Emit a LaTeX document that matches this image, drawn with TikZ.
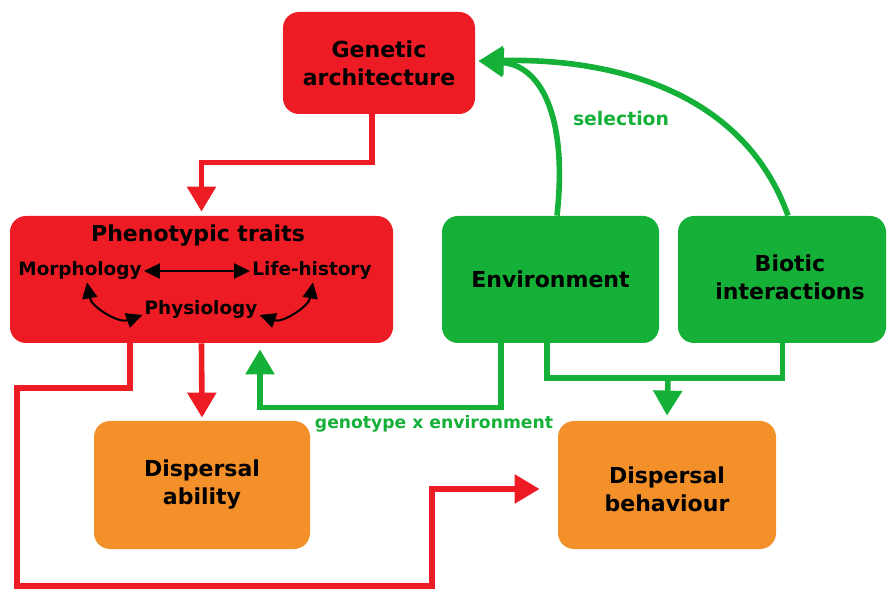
\documentclass[tikz,border=0pt]{standalone}
\usepackage{fontspec}
\setmainfont{DejaVu Sans}
\usetikzlibrary{arrows.meta}
\definecolor{gred}{RGB}{237,28,36}
\definecolor{ggreen}{RGB}{20,176,56}
\definecolor{gorange}{RGB}{243,144,42}
\begin{document}
\begin{tikzpicture}[x=0.5pt,y=-0.5pt, line join=miter, font=\bfseries\fontsize{11}{14}\selectfont]
    \tikzset{box/.style={rounded corners=8pt, inner sep=0pt, align=center, text=black},
        small text/.style={font=\bfseries\fontsize{9.2}{11}\selectfont},
        big head/.style={-{Triangle[length=12.5pt,width=14pt]}},
        red line/.style={draw=gred, line width=2.8pt},
        green line/.style={draw=ggreen, line width=2.8pt},
        black line/.style={line width=1pt, {Triangle[length=8pt,width=7.5pt]}-{Triangle[length=8pt,width=7.5pt]}}}
    \useasboundingbox (0,0) rectangle (888,592);
    \node[box, fill=gred, minimum width=96pt, minimum height=51pt] (gen) at (379,63) {Genetic\\architecture};
    \node[box, fill=gred, minimum width=191.5pt, minimum height=63.5pt] (pheno) at (201.5,279.5) {};
    \node[box, fill=ggreen, minimum width=108.5pt, minimum height=63.5pt] (env) at (550.5,279.5) {Environment};
    \node[box, fill=ggreen, minimum width=104pt, minimum height=63.5pt,
        label={[align=center, xshift=4pt, yshift=1pt]center:Biotic\\interactions}] (biotic) at (782,279.5) {};
    \node[box, fill=gorange, minimum width=108pt, minimum height=64pt] (ability) at (202,485) {Dispersal\\ability};
    \node[box, fill=gorange, minimum width=109pt, minimum height=64pt,
        label={[align=center, yshift=-2pt]center:Dispersal\\behaviour}] (behav) at (667,485) {};
    \node (ptitle) at (198,236) {Phenotypic traits};
    \node[small text, inner sep=1pt] (morph) at (80,271) {Morphology};
    \node[small text, inner sep=1pt] (life) at (312,271) {Life-history};
    \node[small text, inner sep=1pt] (phys) at (201,309) {Physiology};
    \draw[black line] (morph) -- (life);
    \draw[black line] ([xshift=3.5pt]morph.south) to[out=-80,in=200] ([yshift=-3pt]phys.west);
    \draw[black line] ([xshift=0.5pt]life.south) to[out=-100,in=-20] ([yshift=-3pt]phys.east);
    \draw[red line, big head] ([xshift=-3.5pt]gen.south) -- ++(0,48) -| ([yshift=2pt]pheno.north);
    \draw[red line, big head] (pheno.south) -- ([yshift=1.5pt]ability.north);
    \draw[red line, big head] ([xshift=-35.75pt]pheno.south) |- (17,388) |- (432,586) |- ([xshift=-9pt,yshift=-2pt]behav.west);
    \draw[green line, big head] ([xshift=-24.75pt]env.south) -- ++(0,64) -| ([xshift=29.25pt,yshift=-3pt]pheno.south);
    \node[small text, font=\bfseries\fontsize{8.6}{10}\selectfont, text=ggreen] (gxe) at (434,424) {genotype x environment};
    \coordinate (join) at (668,378);
    \draw[green line] ([xshift=-1.75pt]env.south) |- (join) -| ([xshift=0.25pt]biotic.south);
    \draw[green line, big head] (join) -- ([yshift=2.5pt]behav.north);
    \draw[green line, big head] ([xshift=3.25pt]env.north) .. controls (568,115) and (540,65) .. ([xshift=1.5pt,yshift=1pt]gen.east);
    \draw[green line, big head] ([xshift=3pt]biotic.north) .. controls (745,95) and (620,58) .. ([xshift=1.5pt,yshift=1pt]gen.east);
    \node[small text, font=\bfseries\fontsize{9.4}{11}\selectfont, text=ggreen] (sel) at (621,118) {selection};
\end{tikzpicture}
\end{document}
